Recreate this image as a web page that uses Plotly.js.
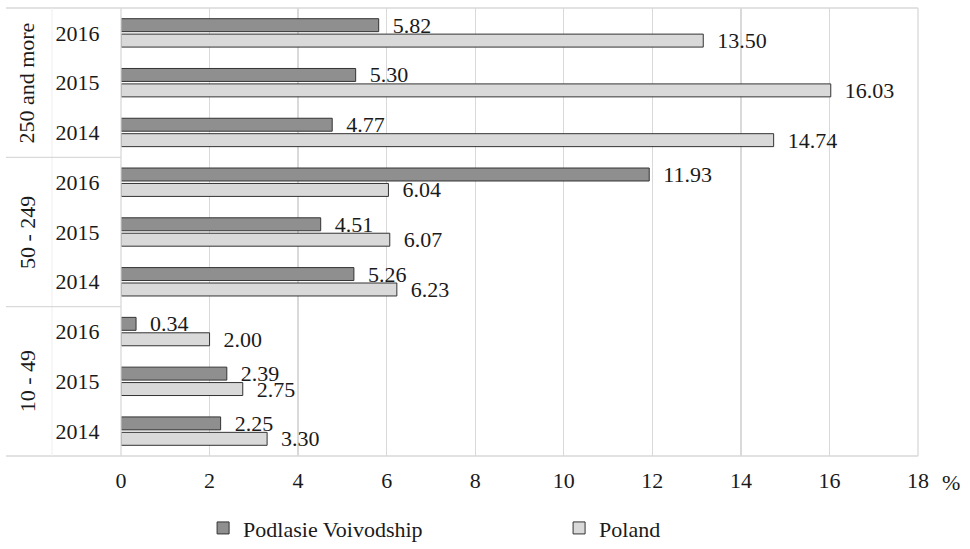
<!DOCTYPE html>
<html>
<head>
<meta charset="utf-8">
<script src="https://cdn.plot.ly/plotly-3.0.1.min.js"></script>
<style>html,body{margin:0;padding:0;background:#fff;}#chart{width:970px;height:549px;}</style>
</head>
<body>
<div id="chart"></div>
<script>
// categories, listed top to bottom
var groups = ["250 and more", "50 - 249", "10 - 49"];
var years = ["2016", "2015", "2014"];
var categories = [
  "250 and more|2016", "250 and more|2015", "250 and more|2014",
  "50 - 249|2016", "50 - 249|2015", "50 - 249|2014",
  "10 - 49|2016", "10 - 49|2015", "10 - 49|2014"
];
var yearLabels = ["2016", "2015", "2014", "2016", "2015", "2014", "2016", "2015", "2014"];

// series values (%)
var podlasieValues = [5.82, 5.30, 4.77, 11.93, 4.51, 5.26, 0.34, 2.39, 2.25];
var podlasieLabels = ["5.82", "5.30", "4.77", "11.93", "4.51", "5.26", "0.34", "2.39", "2.25"];
var polandValues = [13.15, 16.03, 14.74, 6.04, 6.07, 6.23, 2.00, 2.75, 3.30];
var polandLabels = ["13.50", "16.03", "14.74", "6.04", "6.07", "6.23", "2.00", "2.75", "3.30"];

var xTicks = [0, 2, 4, 6, 8, 10, 12, 14, 16, 18];

var FONT = "Liberation Serif";
var NB = "\u00a0\u00a0";

var common = {
  type: "bar",
  orientation: "h",
  y: categories,
  textposition: "outside",
  constraintext: "none",
  cliponaxis: false,
  textfont: {family: FONT, size: 22, color: "#1a1a1a"},
  hoverinfo: "none"
};

var traces = [
  Object.assign({}, common, {
    name: "Podlasie Voivodship",
    x: podlasieValues,
    text: podlasieLabels.map(function (t) { return NB + t; }),
    marker: {color: "#8f8f8f", line: {color: "#333333", width: 1}}
  }),
  Object.assign({}, common, {
    name: "Poland",
    x: polandValues,
    text: polandLabels.map(function (t) { return NB + t; }),
    marker: {color: "#d9d9d9", line: {color: "#333333", width: 1}}
  })
];

var frameColor = "#d9d9d9";
var shapes = [
  {type: "line", xref: "paper", yref: "paper", x0: -0.1443, x1: 1, y0: 1, y1: 1, line: {color: frameColor, width: 1.3}},
  {type: "line", xref: "paper", yref: "paper", x0: -0.1443, x1: 1, y0: 0, y1: 0, line: {color: frameColor, width: 1.3}},
  {type: "line", xref: "paper", yref: "paper", x0: 1, x1: 1, y0: 0, y1: 1, line: {color: frameColor, width: 1.3}},
  {type: "line", xref: "paper", yref: "paper", x0: 0, x1: 0, y0: 0, y1: 1, line: {color: frameColor, width: 1.3}},
  {type: "line", xref: "paper", yref: "paper", x0: -0.0866, x1: -0.0866, y0: 0, y1: 1, line: {color: "#eeeeee", width: 1}},
  {type: "line", xref: "paper", yref: "y", x0: -0.1443, x1: 0, y0: 2.5, y1: 2.5, line: {color: frameColor, width: 1.3}},
  {type: "line", xref: "paper", yref: "y", x0: -0.1443, x1: 0, y0: 5.5, y1: 5.5, line: {color: frameColor, width: 1.3}}
];

var annotations = groups.map(function (g, i) {
  return {
    text: g, xref: "paper", yref: "y", x: -0.118, y: categories[i * 3 + 1],
    textangle: -90, showarrow: false, xanchor: "center", yanchor: "middle",
    font: {family: FONT, size: 22, color: "#1a1a1a"}
  };
});
annotations.push({
  text: "%", xref: "paper", yref: "paper", x: 1.0414, y: -0.06,
  showarrow: false, xanchor: "center", yanchor: "middle",
  font: {family: FONT, size: 22, color: "#1a1a1a"}
});

var layout = {
  width: 970, height: 549,
  margin: {l: 121, r: 52, t: 8, b: 93, autoexpand: false},
  paper_bgcolor: "#ffffff", plot_bgcolor: "#ffffff",
  barmode: "group",
  bargap: 0.38,
  bargroupgap: 0.16,
  font: {family: FONT, size: 22, color: "#1a1a1a"},
  xaxis: {
    range: [0, 18], tickvals: xTicks, ticktext: xTicks.map(String),
    showgrid: true, gridcolor: frameColor, gridwidth: 1.3,
    zeroline: false, showline: false,
    ticks: "outside", ticklen: 5, tickcolor: "rgba(0,0,0,0)",
    tickfont: {family: FONT, size: 22, color: "#1a1a1a"}
  },
  yaxis: {
    type: "category", categoryorder: "array", categoryarray: categories,
    range: [8.5, -0.5],
    tickvals: categories, ticktext: yearLabels,
    showgrid: false, zeroline: false, showline: false,
    ticks: "outside", ticklen: 16, tickcolor: "rgba(0,0,0,0)",
    tickfont: {family: FONT, size: 22, color: "#1a1a1a"}
  },
  showlegend: true,
  legend: {
    orientation: "h", x: 0.103, xanchor: "left", y: -0.161, yanchor: "middle",
    entrywidth: 311, entrywidthmode: "pixels",
    font: {family: FONT, size: 22, color: "#1a1a1a"},
    bgcolor: "rgba(0,0,0,0)", traceorder: "normal"
  },
  shapes: shapes,
  annotations: annotations
};

Plotly.newPlot("chart", traces, layout, {displayModeBar: false, staticPlot: true});
</script>
</body>
</html>
